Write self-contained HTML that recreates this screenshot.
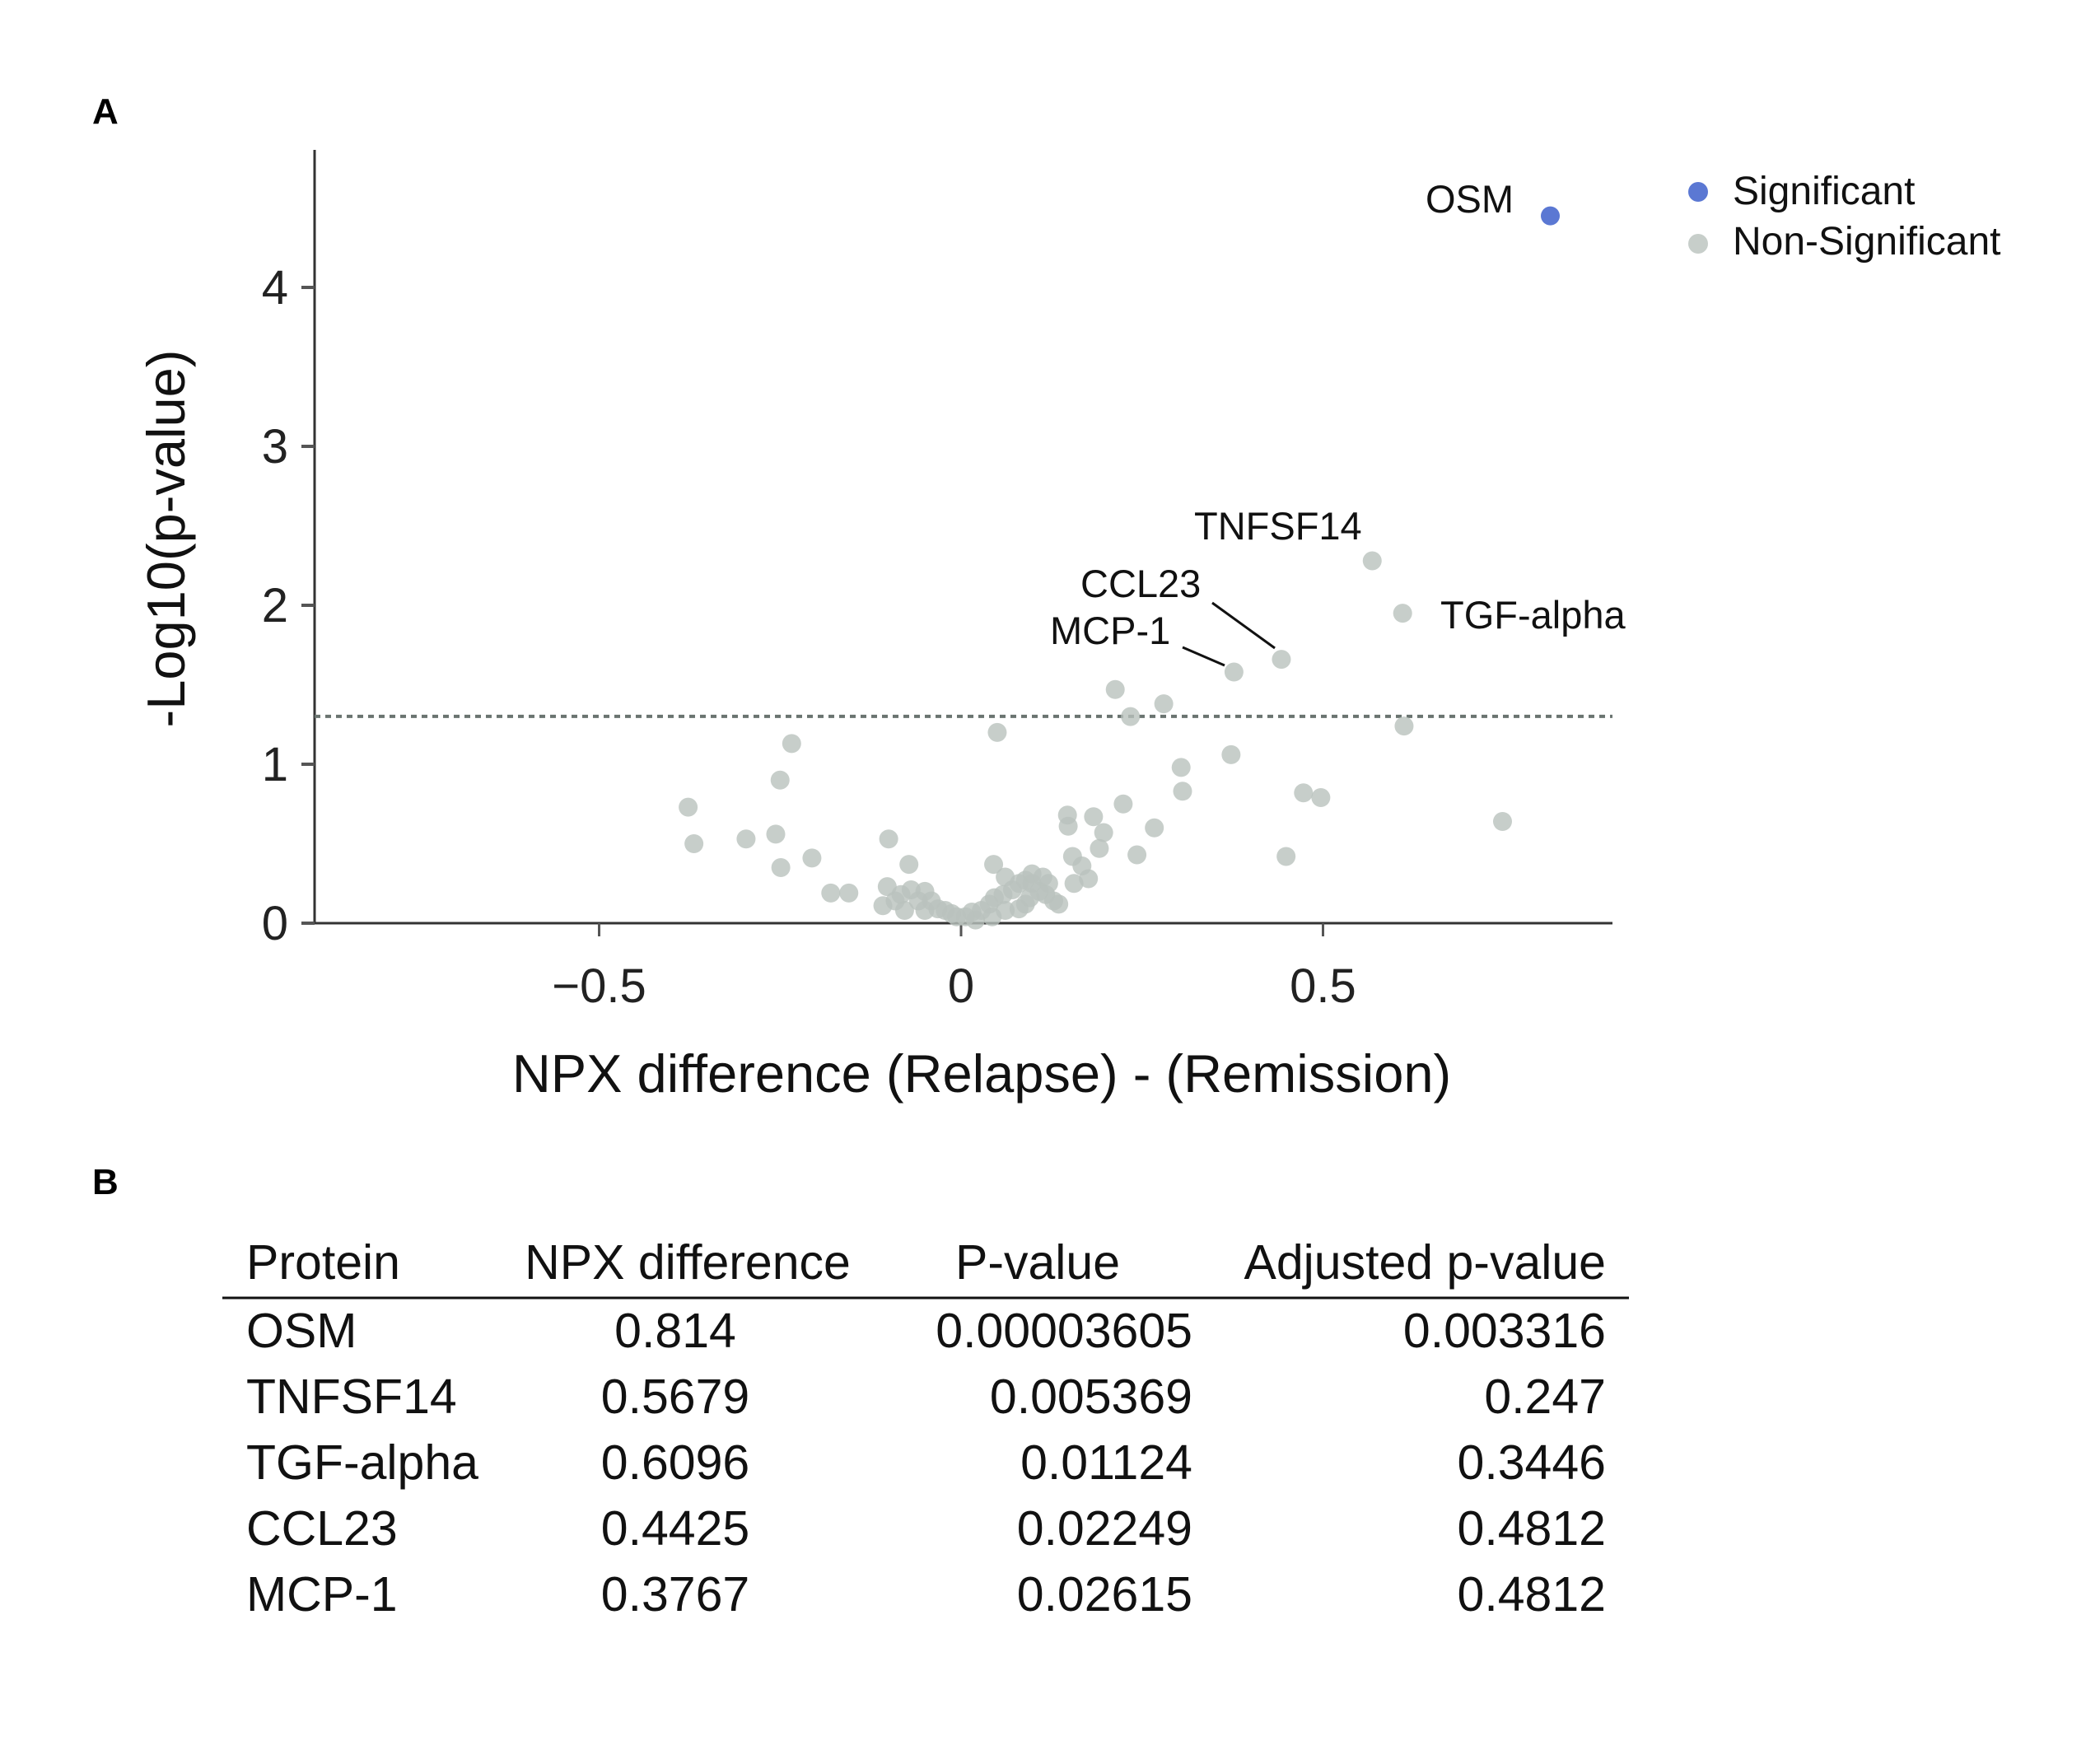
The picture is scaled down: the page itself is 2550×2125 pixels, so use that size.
<!DOCTYPE html>
<html><head><meta charset="utf-8"><style>
html,body{margin:0;padding:0;background:#fff;}
svg{display:block;font-family:"Liberation Sans",Arial,sans-serif;}
</style></head><body>
<svg id="fig" width="2550" height="2125" viewBox="0 0 2550 2125">
<text x="112" y="150" font-size="44" font-weight="bold">A</text>
<text x="112" y="1450" font-size="44" font-weight="bold">B</text>
<g id="plot"></g>
<g id="table"></g>
</svg>
<script>
const xs = [0.814,0.568,0.61,0.4425,0.377,0.213,0.28,0.234,0.612,0.05,-0.234,-0.25,0.373,0.304,0.306,0.473,0.497,0.748,-0.377,-0.369,-0.297,-0.256,-0.249,-0.206,-0.1,0.147,0.148,0.183,0.224,0.197,0.191,0.243,0.267,0.449,0.154,0.167,0.176,0.156,-0.18,-0.155,-0.072,0.045,0.061,-0.108,-0.102,-0.069,-0.05,-0.059,-0.041,-0.032,-0.022,-0.013,-0.006,0.006,0.015,0.028,0.039,0.046,0.058,0.071,0.08,0.089,0.098,0.108,0.117,0.128,0.135,0.089,0.08,0.061,0.043,0.02,-0.083,-0.091,-0.078,-0.05,0.098,0.113,0.095,0.121];
const ys = [4.45,2.28,1.95,1.66,1.58,1.47,1.38,1.30,1.24,1.20,1.13,0.90,1.06,0.98,0.83,0.82,0.79,0.64,0.73,0.50,0.53,0.56,0.35,0.41,0.53,0.68,0.61,0.67,0.75,0.57,0.47,0.43,0.60,0.42,0.42,0.36,0.28,0.25,0.19,0.19,0.37,0.37,0.29,0.11,0.23,0.21,0.20,0.14,0.14,0.09,0.08,0.06,0.04,0.04,0.07,0.08,0.12,0.16,0.18,0.21,0.25,0.27,0.25,0.20,0.18,0.14,0.12,0.12,0.09,0.08,0.04,0.02,0.18,0.14,0.08,0.08,0.31,0.29,0.16,0.25];
const xTicks = [-0.5,0,0.5];
const xTickLabels = ["\u22120.5","0","0.5"];
const yTicks = [0,1,2,3,4];
const threshold = 1.301;
const tableHeaders = ["Protein","NPX difference","P-value","Adjusted p-value"];
const proteins = ["OSM","TNFSF14","TGF-alpha","CCL23","MCP-1"];
const npx = ["0.814","0.5679","0.6096","0.4425","0.3767"];
const pvals = ["0.00003605","0.005369","0.01124","0.02249","0.02615"];
const adjp = ["0.003316","0.247","0.3446","0.4812","0.4812"];

const NS="http://www.w3.org/2000/svg";
const X0=1167, XU=879, Y0=1121, YU=193;
const sx=v=>X0+v*XU, sy=v=>Y0-v*YU;
function mk(p,tag,at,txt){const e=document.createElementNS(NS,tag);for(const k in at)e.setAttribute(k,at[k]);if(txt!==undefined)e.textContent=txt;p.appendChild(e);return e;}
const g=document.getElementById('plot');
let e;
e=mk(g,'line',{x1:382,y1:182,x2:382,y2:Y0,stroke:'#333','stroke-width':3});


e=mk(g,'line',{x1:382,y1:Y0,x2:1958,y2:Y0,stroke:'#333','stroke-width':3});


yTicks.forEach(t=>{
 e=mk(g,'line',{x1:366,y1:sy(t),x2:382,y2:sy(t),stroke:'#555','stroke-width':4});
 
 
 e=mk(g,'text',{x:350,y:sy(t)+20,'font-size':58,'text-anchor':'end',fill:'#222'},String(t));
 
 
});
xTicks.forEach((t,i)=>{
 e=mk(g,'line',{x1:sx(t),y1:Y0,x2:sx(t),y2:Y0+16,stroke:'#555','stroke-width':3});
 
 
 e=mk(g,'text',{x:sx(t),y:1217,'font-size':58,'text-anchor':'middle',fill:'#222'},xTickLabels[i]);
 
 
});
e=mk(g,'line',{x1:382,y1:sy(threshold),x2:1958,y2:sy(threshold),stroke:'#6a7470','stroke-width':4,'stroke-dasharray':'7 6'});


e=mk(g,'text',{x:1192,y:1326,'font-size':65,'text-anchor':'middle',fill:'#111'},'NPX difference (Relapse) - (Remission)');


e=mk(g,'text',{x:0,y:0,'font-size':65,'text-anchor':'middle',fill:'#111',transform:'translate(224,654) rotate(-90)'},'-Log10(p-value)');


xs.forEach((v,i)=>{
 if(i===0)return;
 e=mk(g,'circle',{cx:sx(v),cy:sy(ys[i]),r:11.5,fill:'#b9c2bd','fill-opacity':0.8});
 
 
});
e=mk(g,'circle',{cx:sx(xs[0]),cy:sy(ys[0]),r:11.5,fill:'#5b78d3'});


const ann=[["OSM",1731,258],["TNFSF14",1450,655],["CCL23",1312,725],["MCP-1",1275,782],["TGF-alpha",1749,763]];
ann.forEach(a=>{
 e=mk(g,'text',{x:a[1],y:a[2],'font-size':47,fill:'#111'},a[0]);
 
 
});
e=mk(g,'line',{x1:1472,y1:732,x2:1548,y2:787,stroke:'#111','stroke-width':3});


e=mk(g,'line',{x1:1436,y1:786,x2:1487,y2:808,stroke:'#111','stroke-width':3});


e=mk(g,'circle',{cx:2062,cy:233,r:12,fill:'#5b78d3'});


e=mk(g,'text',{x:2104,y:248,'font-size':48,fill:'#111'},'Significant');


e=mk(g,'circle',{cx:2062,cy:296,r:12,fill:'#b9c2bd','fill-opacity':0.8});


e=mk(g,'text',{x:2104,y:309,'font-size':48,fill:'#111'},'Non-Significant');



const t=document.getElementById('table');
const hx=[[299,'start'],[835,'middle'],[1260,'middle'],[1950,'end']];
tableHeaders.forEach((h,i)=>{
 e=mk(t,'text',{x:hx[i][0],y:1553,'font-size':59,'text-anchor':hx[i][1],fill:'#111'},h);
 
 
});
e=mk(t,'line',{x1:270,y1:1576,x2:1978,y2:1576,stroke:'#111','stroke-width':3});


const ry=[1636,1716,1796,1876,1956];
proteins.forEach((p,i)=>{
 const cells=[[p,299,'start'],[npx[i],820,'middle'],[pvals[i],1448,'end'],[adjp[i],1950,'end']];
 cells.forEach(c=>{
  e=mk(t,'text',{x:c[1],y:ry[i],'font-size':59,'text-anchor':c[2],fill:'#111'},c[0]);
  
  
 });
});
</script>
</body></html>
